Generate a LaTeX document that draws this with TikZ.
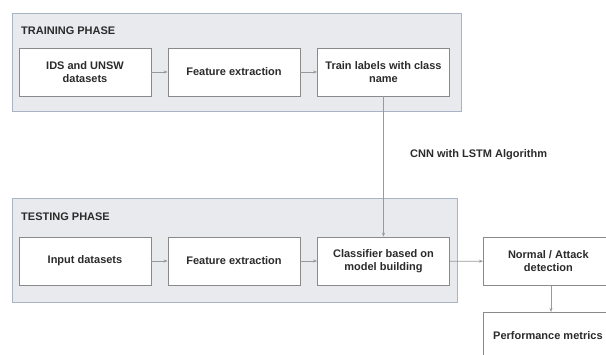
\documentclass[tikz,border=0pt]{standalone}
\usepackage{fontspec}
\setmainfont{Liberation Sans}
\usetikzlibrary{arrows.meta}
\definecolor{groupfill}{HTML}{E9EAEE}
\definecolor{groupline}{HTML}{A8B3C4}
\definecolor{boxline}{HTML}{8A8A8A}
\definecolor{txt}{HTML}{2B2B2B}
\tikzset{
  phase/.style={draw=groupline, fill=groupfill, line width=0.8pt},
  stepbox/.style={draw=boxline, fill=white, line width=0.8pt, minimum width=132pt, minimum height=48pt,
    align=center, font=\fontsize{11}{13}\selectfont\bfseries, text=txt, inner sep=0pt},
  flow/.style={draw=gray!80, line width=0.7pt, -{Stealth[length=4pt,width=3pt]}},
  title/.style={font=\fontsize{11}{13}\selectfont\bfseries, text=txt, anchor=west, inner sep=0pt}
}
\begin{document}
\begin{tikzpicture}[x=1pt,y=-1pt]
\useasboundingbox (0,0) rectangle (606,354);
\clip (0,0) rectangle (606,354);
% phase frames
\draw[phase] (12,13) rectangle (461,111);
\draw[phase] (12,198) rectangle (457,302);
\node[title] (trainT) at (21,31) {TRAINING PHASE};
\node[title] (testT) at (21,217) {TESTING PHASE};
% training row
\node[stepbox] (ids) at (85,72) {IDS and UNSW\\datasets};
\node[stepbox] (fe1) at (234,72) {Feature extraction};
\node[stepbox] (lbl) at (383.5,72) {Train labels with class\\name};
% testing row
\node[stepbox] (inp) at (85,261) {Input datasets};
\node[stepbox] (fe2) at (234,261) {Feature extraction};
\node[stepbox] (cls) at (383.5,261) {Classifier based on\\model building};
% outputs (run past the right and bottom edges)
\node[stepbox, minimum width=140pt, anchor=north west] (det) at (483,237) {\hspace*{-10pt}Normal / Attack\\\hspace*{-10pt}detection};
\node[stepbox, minimum width=140pt, minimum height=60pt, anchor=north west] (perf) at (483,312) {};
\node[font=\fontsize{11}{13}\selectfont\bfseries, text=txt, anchor=west, inner sep=0pt] (perfT) at (493,336) {Performance metrics};
% connectors
\draw[flow] (ids) -- (fe1);
\draw[flow] (fe1) -- (lbl);
\draw[flow] (inp) -- (fe2);
\draw[flow] (fe2) -- (cls);
\draw[flow] (lbl) -- (cls);
\draw[flow] (cls) -- (det);
\draw[flow] (det.south -| 551,0) -- (perf.north -| 551,0);
\node[font=\fontsize{11}{13}\selectfont\bfseries, text=txt, anchor=west, inner sep=0pt] (algo) at (410,155) {CNN with LSTM Algorithm};
\end{tikzpicture}
\end{document}
